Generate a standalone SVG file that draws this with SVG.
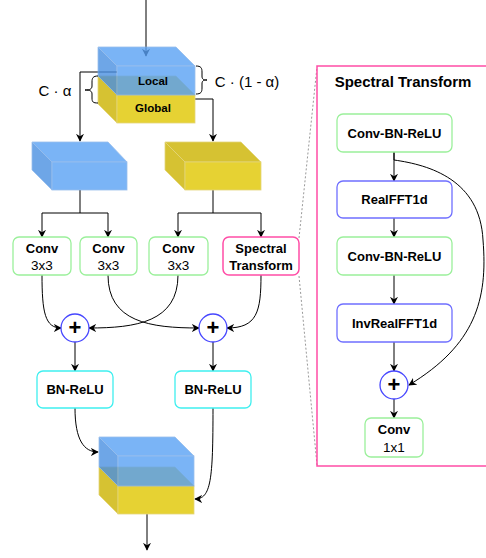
<svg xmlns="http://www.w3.org/2000/svg" width="486" height="558" viewBox="0 0 486 558">
<defs>
<marker id="arr" viewBox="0 0 10 10" refX="9" refY="5" markerWidth="8" markerHeight="8" markerUnits="userSpaceOnUse" orient="auto">
<path d="M0,0 L10,5 L0,10 L3,5 z" fill="#000"/>
</marker>
<style>
text{font-family:"Liberation Sans",Arial,sans-serif;fill:#000}
.b{font-weight:bold;font-size:13px}
.r{font-size:13.5px}
.lbl{font-size:15px}
.cube{font-weight:bold;font-size:11.5px}
.e{fill:none;stroke:#000;stroke-width:1;marker-end:url(#arr)}
.ln{fill:none;stroke:#000;stroke-width:1}
.g{fill:#fff;stroke:#9BF09B;stroke-width:1.3}
.bl{fill:#fff;stroke:#6F6FFF;stroke-width:1.3}
.cy{fill:#fff;stroke:#3FEFEF;stroke-width:1.3}
.pk{fill:#fff;stroke:#FF4DA6;stroke-width:1.5}
.pl{fill:#fff;stroke:#4646FF;stroke-width:1.3}
.yf{fill:#E6D233;stroke:#E3D47A;stroke-width:0.8}
.ys{fill:#D6C232;stroke:#E3D47A;stroke-width:0.8}
.bf{fill:#5AA2F5;stroke:#7FAEE8;stroke-width:0.8}
.bs{fill:#4A90E2;stroke:#7FAEE8;stroke-width:0.8}
.dot{fill:none;stroke:#999;stroke-width:1;stroke-dasharray:2 2}
</style>
</defs>
<rect width="486" height="558" fill="#fff"/>

<g id="connectors">
<path class="e" d="M146,0 L146,56"/>
<path class="e" d="M117,72 L80,72 L80,141"/>
<path class="e" d="M195,99 L213,99 L213,141"/>
<path class="ln" d="M80,190 L80,213 M42,213 L108,213"/>
<path class="e" d="M42,213 L42,237"/>
<path class="e" d="M108,213 L108,237"/>
<path class="ln" d="M213,190 L213,213 M178,213 L261,213"/>
<path class="e" d="M178,213 L178,237"/>
<path class="e" d="M261,213 L261,237"/>
<path class="e" d="M42,275 C42,312 45,328 61,328"/>
<path class="e" d="M108,275 C108,322 150,328 199,328"/>
<path class="e" d="M178,275 C178,322 136,328 89,328"/>
<path class="e" d="M261,275 C261,312 257,328 227,328"/>
<path class="e" d="M75,342 L75,371"/>
<path class="e" d="M213,342 L213,371"/>
<path class="e" d="M75,408 C75,440 84,452 98,452"/>
<path class="e" d="M213,408 C213,480 211,499 195,499"/>
<path class="e" d="M147,514 L147,550"/>
<path class="dot" d="M299,238 L317,67"/>
<path class="dot" d="M299,276 L317,465"/>
<path class="e" d="M394,152 L394,181"/>
<path class="e" d="M394,218 L394,237"/>
<path class="e" d="M394,275 L394,304"/>
<path class="e" d="M394,342 L394,371"/>
<path class="e" d="M394,399 L394,418"/>
<path class="e" d="M394,152 L394,160 C430,165 480,180 483,240 C488,300 475,345 409,385"/>
</g>

<g id="cube-top">
<polygon class="ys" points="98,76 176,76 195,95 117,95"/>
<polygon class="ys" points="98,76 117,95 117,123 98,104"/>
<rect class="yf" x="117" y="95" width="78" height="28"/>
<g opacity="0.8">
<polygon class="bf" points="98,47 176,47 195,66 117,66"/>
<polygon class="bs" points="98,47 117,66 117,95 98,76"/>
<rect class="bf" x="117" y="66" width="78" height="29"/>
</g>
<text class="cube" x="153" y="84.5" text-anchor="middle">Local</text>
<text class="cube" x="153" y="112" text-anchor="middle">Global</text>
</g>

<g id="brace-left">
<path class="ln" stroke-width="1.3" d="M98,76 C93,76 92,78 92,82 L92,86 C92,89 90,90 85,90 C90,90 92,91 92,94 L92,98 C92,102 93,103 98,103"/>
<text class="lbl" x="55" y="96" text-anchor="middle">C · α</text>
</g>
<g id="brace-right">
<path class="ln" stroke-width="1.3" d="M196,66 C201,66 202,68 202,72 L202,76 C202,79 203,80 207,80 C203,80 202,81 202,84 L202,88 C202,92 201,94 196,94"/>
<text class="lbl" x="247" y="87" text-anchor="middle">C · (1 - α)</text>
</g>

<g id="cube-local">
<g opacity="0.8">
<polygon class="bf" points="32,142 108,142 127,162 52,162"/>
<polygon class="bs" points="32,142 52,162 52,190 32,170"/>
<rect class="bf" x="52" y="162" width="75" height="28"/>
</g>
</g>
<g id="cube-global">
<polygon class="ys" points="165,142 241,142 261,162 185,162"/>
<polygon class="ys" points="165,142 185,162 185,190 165,170"/>
<rect class="yf" x="185" y="162" width="76" height="28"/>
</g>

<g id="conv1">
<rect class="g" x="13" y="237" width="58" height="38" rx="6"/>
<text class="b" x="42" y="252.5" text-anchor="middle">Conv</text>
<text class="r" x="42" y="270" text-anchor="middle">3x3</text>
</g>
<g id="conv2">
<rect class="g" x="80" y="237" width="57" height="38" rx="6"/>
<text class="b" x="108.5" y="252.5" text-anchor="middle">Conv</text>
<text class="r" x="108.5" y="270" text-anchor="middle">3x3</text>
</g>
<g id="conv3">
<rect class="g" x="149" y="237" width="59" height="38" rx="6"/>
<text class="b" x="178.5" y="252.5" text-anchor="middle">Conv</text>
<text class="r" x="178.5" y="270" text-anchor="middle">3x3</text>
</g>
<g id="spectral">
<rect class="pk" x="223" y="237" width="76" height="38" rx="6"/>
<text class="b" x="261" y="252.5" text-anchor="middle">Spectral</text>
<text class="b" x="261" y="269.5" text-anchor="middle">Transform</text>
</g>

<g id="plus-left">
<circle class="pl" cx="75" cy="328" r="14"/>
<text x="75" y="335" text-anchor="middle" font-size="22" font-weight="bold">+</text>
</g>
<g id="plus-right">
<circle class="pl" cx="213" cy="328" r="14"/>
<text x="213" y="335" text-anchor="middle" font-size="22" font-weight="bold">+</text>
</g>

<g id="bnrelu-left">
<rect class="cy" x="37" y="371" width="76" height="37" rx="6"/>
<text class="b" x="75" y="394" text-anchor="middle">BN-ReLU</text>
</g>
<g id="bnrelu-right">
<rect class="cy" x="175" y="371" width="76" height="37" rx="6"/>
<text class="b" x="213" y="394" text-anchor="middle">BN-ReLU</text>
</g>

<g id="cube-out">
<polygon class="ys" points="99,467 175,467 194,486 118,486"/>
<polygon class="ys" points="99,467 118,486 118,514 99,495"/>
<rect class="yf" x="118" y="486" width="76" height="28"/>
<g opacity="0.8">
<polygon class="bf" points="99,437 175,437 194,456 118,456"/>
<polygon class="bs" points="99,437 118,456 118,486 99,467"/>
<rect class="bf" x="118" y="456" width="76" height="30"/>
</g>
</g>

<g id="spectral-panel">
<rect x="317" y="66" width="180" height="400" fill="none" stroke="#FF4DA6" stroke-width="1.5"/>
<text x="403" y="87" text-anchor="middle" font-size="15" font-weight="bold">Spectral Transform</text>
</g>
<g id="st-conv1">
<rect class="g" x="337" y="114" width="115" height="38" rx="6"/>
<text class="b" x="394.5" y="137.5" text-anchor="middle">Conv-BN-ReLU</text>
</g>
<g id="st-fft">
<rect class="bl" x="337" y="181" width="115" height="37" rx="6"/>
<text class="b" x="394.5" y="204" text-anchor="middle">RealFFT1d</text>
</g>
<g id="st-conv2">
<rect class="g" x="337" y="237" width="115" height="38" rx="6"/>
<text class="b" x="394.5" y="260.5" text-anchor="middle">Conv-BN-ReLU</text>
</g>
<g id="st-ifft">
<rect class="bl" x="337" y="304" width="115" height="38" rx="6"/>
<text class="b" x="394.5" y="327.5" text-anchor="middle">InvRealFFT1d</text>
</g>
<g id="st-plus">
<circle class="pl" cx="394" cy="385" r="14"/>
<text x="394" y="392" text-anchor="middle" font-size="22" font-weight="bold">+</text>
</g>
<g id="st-conv1x1">
<rect class="g" x="365" y="418" width="58" height="39" rx="6"/>
<text class="b" x="394" y="434" text-anchor="middle">Conv</text>
<text class="r" x="394" y="451.5" text-anchor="middle">1x1</text>
</g>
</svg>
